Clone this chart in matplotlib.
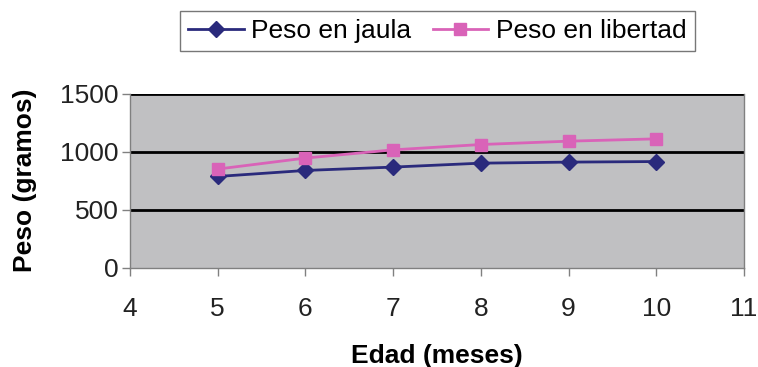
import matplotlib
matplotlib.use("Agg")
import matplotlib.pyplot as plt

edad = [5, 6, 7, 8, 9, 10]
peso_jaula = [787, 839, 868, 902, 911, 916]
peso_libertad = [851, 946, 1017, 1063, 1092, 1112]
xticks = [4, 5, 6, 7, 8, 9, 10, 11]
yticks = [0, 500, 1000, 1500]

plt.rcParams['font.family'] = ['Liberation Sans', 'DejaVu Sans']

fig = plt.figure(figsize=(7.58, 3.67), dpi=100)
ax = fig.add_axes([0.1715, 0.271, 0.81, 0.473])
ax.set_facecolor('#c0c0c2')

ax.plot(edad, peso_jaula, color='#2a2a7c', marker='D', markersize=8, lw=2,
        label='Peso en jaula', zorder=3)
ax.plot(edad, peso_libertad, color='#d963b8', marker='s', markersize=9, lw=2,
        label='Peso en libertad', zorder=3)

ax.set_xlim(4, 11)
ax.set_ylim(0, 1500)
ax.set_xticks(xticks)
ax.set_yticks(yticks)
for y in [500, 1000, 1500]:
    ax.axhline(y, color='black', lw=2, zorder=2)

for s in ['left', 'bottom', 'right']:
    ax.spines[s].set_color('#808080')
    ax.spines[s].set_linewidth(1)
ax.spines['top'].set_visible(False)

ax.tick_params(axis='both', colors='#808080', labelcolor='#222222', labelsize=19,
               length=6, width=1, direction='out')
ax.tick_params(axis='x', pad=15)
ax.tick_params(axis='y', pad=2)

ax.set_xlabel('Edad (meses)', fontsize=19, fontweight='bold', labelpad=17)
ax.set_ylabel('Peso (gramos)', fontsize=19, fontweight='bold', labelpad=17)

leg = fig.legend(loc='center', bbox_to_anchor=(0.577, 0.915), ncol=2,
                 fontsize=19, frameon=True, fancybox=False, edgecolor='#555555',
                 handlelength=2.1, handletextpad=0.3, columnspacing=0.8,
                 borderpad=0.3, borderaxespad=0)
leg.get_frame().set_linewidth(1)

fig.savefig('out.png', dpi=100)
